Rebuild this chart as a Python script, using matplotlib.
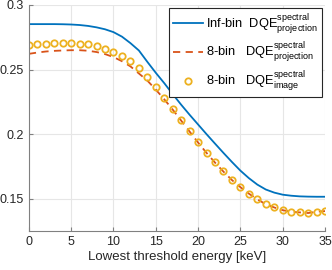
# DQE vs lowest threshold energy

import matplotlib.pyplot as plt
from matplotlib.ticker import FormatStrFormatter

plt.rcParams['font.family'] = ['Liberation Sans', 'DejaVu Sans']
plt.rcParams['mathtext.fontset'] = 'custom'
plt.rcParams['mathtext.rm'] = 'Liberation Sans'

# energia (keV)
energy = list(range(0, 36))

# Inf-bin DQE projection
inf_proj = [0.2852, 0.2852, 0.2852, 0.2852, 0.2851, 0.2849, 0.2845, 0.2838,
            0.2827, 0.2812, 0.2790, 0.2755, 0.2705, 0.2648, 0.2560, 0.2475,
            0.2395, 0.2310, 0.2228, 0.2150, 0.2075, 0.2000, 0.1927, 0.1855,
            0.1785, 0.1718, 0.1660, 0.1610, 0.1572, 0.1548, 0.1532, 0.1524,
            0.1519, 0.1517, 0.1516, 0.1516]

# 8-bin DQE projection
bin8_proj = [0.2622, 0.2632, 0.2640, 0.2645, 0.2648, 0.2650, 0.2650, 0.2646,
             0.2636, 0.2620, 0.2597, 0.2565, 0.2525, 0.2470, 0.2415, 0.2345,
             0.2270, 0.2190, 0.2105, 0.2020, 0.1935, 0.1855, 0.1780, 0.1710,
             0.1645, 0.1590, 0.1540, 0.1496, 0.1458, 0.1433, 0.1412, 0.1400,
             0.1395, 0.1390, 0.1400, 0.1405]

# 8-bin DQE image
bin8_img = [0.2693, 0.2695, 0.2698, 0.2703, 0.2703, 0.2703, 0.2701, 0.2695,
            0.2680, 0.2662, 0.2638, 0.2604, 0.2566, 0.2509, 0.2441, 0.2366,
            0.2283, 0.2193, 0.2109, 0.2023, 0.1938, 0.1857, 0.1784, 0.1712,
            0.1646, 0.1594, 0.1541, 0.1498, 0.1459, 0.1435, 0.1414, 0.1401,
            0.1396, 0.1391, 0.1401, 0.1406]

fig = plt.figure(figsize=(3.32, 2.70), dpi=100)
ax = fig.add_axes([0.087, 0.144, 0.892, 0.8375])

ax.plot(energy, inf_proj, c='#0072BD', lw=1.3,
        label=r'Inf-bin  DQE$^{\mathrm{spectral}}_{\mathrm{projection}}$')
ax.plot(energy, bin8_proj, c='#D95319', lw=1.3, ls=(0, (4, 3)),
        label=r'8-bin   DQE$^{\mathrm{spectral}}_{\mathrm{projection}}$')
ax.plot(energy, bin8_img, ls='none', marker='o', ms=4.6, mfc='none',
        mec='#EDB120', mew=1.3,
        label=r'8-bin   DQE$^{\mathrm{spectral}}_{\mathrm{image}}$')

ax.set_xlim(0, 35)
ax.set_ylim(0.125, 0.3)
ax.set_xticks(range(0, 36, 5))
ax.set_yticks([0.15, 0.2, 0.25, 0.3])
ax.yaxis.set_major_formatter(FormatStrFormatter('%g'))
ax.grid(True, color='#e6e6e6', lw=0.8)
ax.set_axisbelow(True)
for s in ['top', 'right']:
    ax.spines[s].set_visible(False)
for s in ['left', 'bottom']:
    ax.spines[s].set_color('#808080')
ax.tick_params(direction='in', length=3, color='#808080',
               labelsize=9, labelcolor='#262626')
ax.set_xlabel('Lowest threshold energy [keV]', fontsize=9.5,
              color='#262626', labelpad=2)

leg = ax.legend(loc='upper right', fontsize=9.3, fancybox=False,
                framealpha=1, edgecolor='#262626', borderaxespad=0.25,
                handlelength=2.3, handletextpad=0.3, labelspacing=0.4,
                borderpad=0.3)
leg.get_frame().set_linewidth(0.8)

plt.savefig('out.png')
